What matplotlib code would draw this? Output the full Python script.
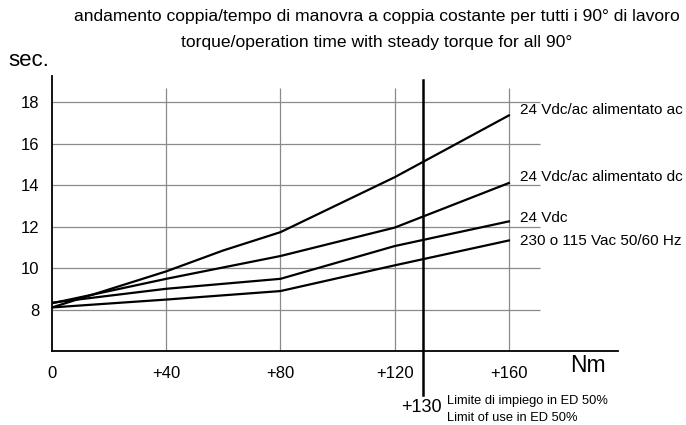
import matplotlib.pyplot as plt

plt.rcParams['font.family'] = ['Liberation Sans', 'DejaVu Sans']

torque = [0, 40, 80, 120, 160]
torque_ac = [0, 40, 60, 80, 120, 160]
time_ac = [8.1, 9.84, 10.85, 11.73, 14.38, 17.36]      # 24 Vdc/ac alimentato ac
time_dc = [8.3, 9.48, 10.58, 11.95, 14.1]              # 24 Vdc/ac alimentato dc
time_24vdc = [8.33, 9.0, 9.48, 11.06, 12.25]           # 24 Vdc
time_230vac = [8.1, 8.48, 8.89, 10.13, 11.33]          # 230 o 115 Vac 50/60 Hz

series_labels = ['24 Vdc/ac alimentato ac', '24 Vdc/ac alimentato dc',
                 '24 Vdc', '230 o 115 Vac 50/60 Hz']
label_y = [17.6, 14.4, 12.4, 11.3]

grid_x = [40, 80, 120, 160]
grid_y = [8, 10, 12, 14, 16, 18]
x_ticks = [0, 40, 80, 120, 160]
x_tick_labels = ['0', '+40', '+80', '+120', '+160']
limit_x = 130

fig = plt.figure(figsize=(6.86, 4.25), dpi=100)
ax = fig.add_axes([52/686, 1-351/425, (618-52)/686, (351-76)/425])
ax.set_xlim(0, 198.2)
ax.set_ylim(6, 19.26)

# grid
ax.hlines(grid_y, 0, 171, color='#8a8a8a', lw=0.9, zorder=1)
ax.vlines(grid_x, 6, 18.7, color='#8a8a8a', lw=0.9, zorder=1)

# curves
ax.plot(torque_ac, time_ac, color='black', lw=1.6, zorder=3)
ax.plot(torque, time_dc, color='black', lw=1.6, zorder=3)
ax.plot(torque, time_24vdc, color='black', lw=1.6, zorder=3)
ax.plot(torque, time_230vac, color='black', lw=1.6, zorder=3)

for lab, yy in zip(series_labels, label_y):
    ax.text(164, yy, lab, fontsize=11, va='center', ha='left')

# limit line
ax.plot([limit_x, limit_x], [3.9, 19.06], color='black', lw=1.8, clip_on=False, zorder=4)

for s in ['top', 'right']:
    ax.spines[s].set_visible(False)
ax.spines['left'].set_linewidth(1.3)
ax.spines['bottom'].set_linewidth(1.3)

ax.set_yticks(grid_y)
ax.set_yticklabels([str(v) for v in grid_y], fontsize=12)
ax.set_xticks(x_ticks)
ax.set_xticklabels(x_tick_labels, fontsize=12)
ax.tick_params(axis='y', length=0, pad=9)
ax.tick_params(axis='x', length=0, pad=11)

fig.text(8/686, 1-61/425, 'sec.', fontsize=16, va='center', ha='left')
fig.text(588/686, 1-366/425, 'Nm', fontsize=16.5, va='center', ha='center')
fig.text(442/686, 1-408/425, '+130', fontsize=13, va='center', ha='right')
fig.text(447/686, 1-401/425, 'Limite di impiego in ED 50%', fontsize=9.3, va='center', ha='left')
fig.text(447/686, 1-418/425, 'Limit of use in ED 50%', fontsize=9.3, va='center', ha='left')

fig.text(377/686, 1-17/425,
         'andamento coppia/tempo di manovra a coppia costante per tutti i 90° di lavoro',
         fontsize=12.6, va='center', ha='center')
fig.text(377/686, 1-43/425, 'torque/operation time with steady torque for all 90°',
         fontsize=12.6, va='center', ha='center')

fig.savefig('out.png', dpi=100)
